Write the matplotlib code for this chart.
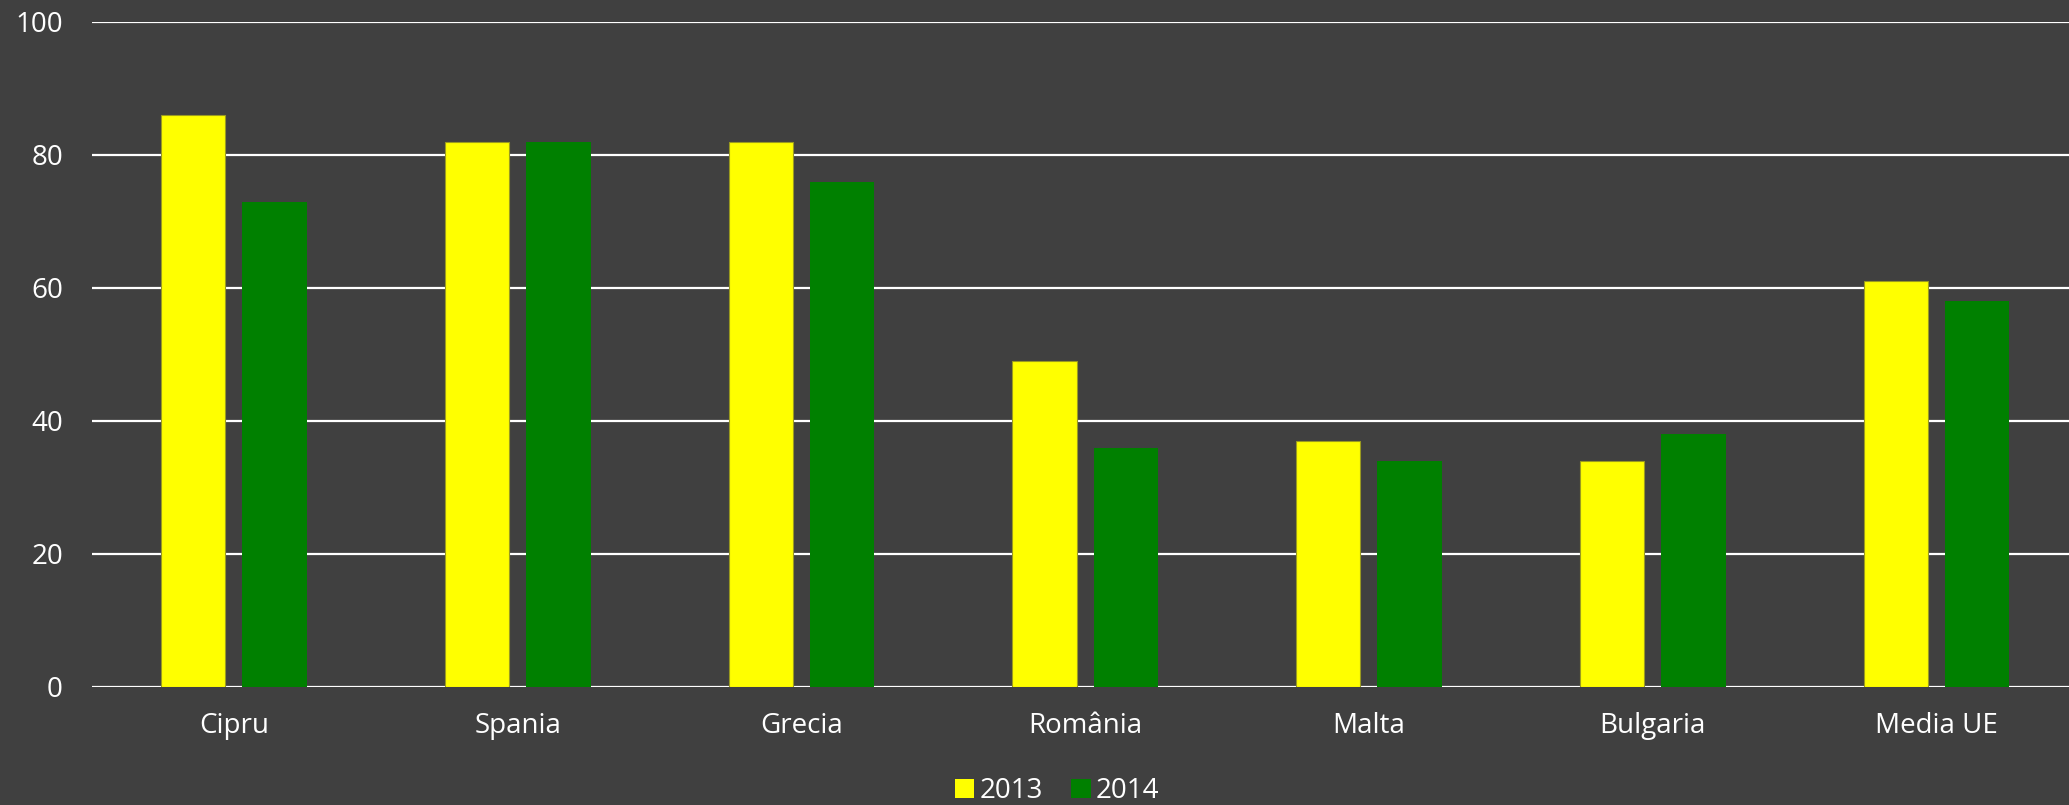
import numpy as np
import matplotlib.pyplot as plt
from matplotlib.patches import Patch

# data
COUNTRIES = ["Cipru", "Spania", "Grecia", "România", "Malta", "Bulgaria", "Media UE"]
VALUES_2013 = [86, 82, 82, 49, 37, 34, 61]
VALUES_2014 = [73, 82, 76, 36, 34, 38, 58]
SERIES_NAMES = ["2013", "2014"]
Y_TICKS = [0, 20, 40, 60, 80, 100]

BG = "#404040"
YELLOW = "#ffff00"
GREEN = "#008000"

plt.rcParams['font.family'] = ['Open Sans', 'DejaVu Sans']

fig = plt.figure(figsize=(20.69, 8.05), dpi=100, facecolor=BG)
# plot area runs slightly past the right edge, like the original
ax = fig.add_axes([0.0445, 0.1466, 0.960, 0.8261])
ax.set_facecolor(BG)

x = np.arange(len(COUNTRIES))
width = 0.227
offset = 0.1435
ax.bar(x - offset, VALUES_2013, width, color=YELLOW, edgecolor="#9a9a20", linewidth=0.8, zorder=3)
ax.bar(x + offset, VALUES_2014, width, color=GREEN, zorder=3)

ax.set_xlim(-0.5, len(COUNTRIES) - 0.5)
ax.set_ylim(0, 100)
ax.set_yticks(Y_TICKS)
ax.set_xticks(x)
ax.set_xticklabels(COUNTRIES)

ax.grid(axis='y', color='white', linewidth=1.6)
ax.set_axisbelow(True)
for s in ax.spines.values():
    s.set_visible(False)

ax.tick_params(axis='y', length=0, pad=21, labelsize=20, colors='white')
ax.tick_params(axis='x', length=0, pad=18, labelsize=20, colors='white')

handles = [Patch(facecolor=YELLOW), Patch(facecolor=GREEN)]
fig.legend(handles, SERIES_NAMES, loc='center', bbox_to_anchor=(0.511, 0.017),
           ncol=2, frameon=False, fontsize=20, labelcolor='white',
           handlelength=0.7, handleheight=0.7, handletextpad=0.2, columnspacing=1.0,
           borderpad=0)

fig.savefig("out.png", dpi=100, facecolor=BG)
